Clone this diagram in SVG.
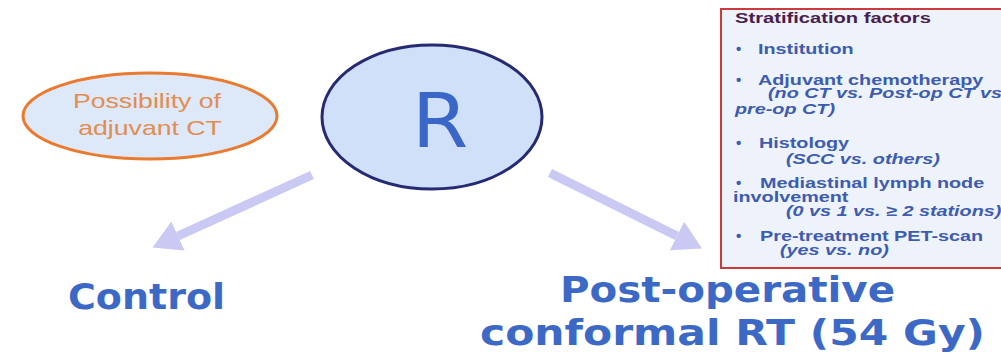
<svg xmlns="http://www.w3.org/2000/svg" width="1001" height="356" viewBox="0 0 1001 356">
<defs>
<style>
.item{font-family:"Liberation Sans",Arial,sans-serif;font-weight:bold;font-size:15px;fill:#3d5cb0}
.ital{font-style:italic}
.head{font-family:"Liberation Sans",Arial,sans-serif;font-weight:bold;font-size:15.5px;fill:#4a1d4f}
.big{font-family:"DejaVu Sans",sans-serif;font-weight:bold;font-size:35px;fill:#3d69c6}
.oval{font-family:"Liberation Sans",Arial,sans-serif;font-size:20.5px;fill:#e38c50}
.conn{stroke:#c9c9f3;stroke-width:9;fill:none}
</style>
<marker id="ah" viewBox="0 -16 28 32" markerWidth="28" markerHeight="32" refX="0" refY="0" markerUnits="userSpaceOnUse" orient="auto">
<path d="M0,-16 L28,0 L0,16 z" fill="#c9c9f3"/>
</marker>
</defs>
<rect width="1001" height="356" fill="#ffffff"/>

<g id="connectors">
<line class="conn" x1="312" y1="175" x2="178" y2="236" marker-end="url(#ah)"/>
<line class="conn" x1="550" y1="173" x2="677" y2="236" marker-end="url(#ah)"/>
</g>

<g id="node-possibility">
<ellipse cx="150" cy="116" rx="127" ry="43" fill="#dde9f8" stroke="#eb7a2e" stroke-width="3"/>
<text class="oval" text-anchor="middle" transform="matrix(1.3,0,0,1,147,108)">Possibility of</text>
<text class="oval" text-anchor="middle" transform="matrix(1.3,0,0,1,150,135)">adjuvant CT</text>
</g>

<g id="node-R">
<ellipse cx="432" cy="117" rx="110" ry="72" fill="#cfe0f8" stroke="#262a72" stroke-width="3"/>
<text text-anchor="middle" transform="matrix(1.1,0,0,1,440,147)" style="font-family:'DejaVu Sans',sans-serif;font-size:74px;fill:#3a66c8">R</text>
</g>

<g id="node-control">
<text class="big" x="68" y="309" textLength="157" lengthAdjust="spacingAndGlyphs">Control</text>
</g>

<g id="node-postop">
<text class="big" x="560" y="302" textLength="335" lengthAdjust="spacingAndGlyphs">Post-operative</text>
<text class="big" x="480" y="345" textLength="505" lengthAdjust="spacingAndGlyphs">conformal RT (54 Gy)</text>
</g>

<g id="node-stratification">
<rect x="721" y="9" width="300" height="259" fill="#eef3fb" stroke="#cc3b3b" stroke-width="2"/>
<text class="head" transform="matrix(1.3,0,0,1,735,23)">Stratification factors</text>
<text class="item" x="736" y="54">•</text>
<text class="item" transform="matrix(1.32,0,0,1,758,54)">Institution</text>
<text class="item" x="736" y="85">•</text>
<text class="item" transform="matrix(1.32,0,0,1,758,85)">Adjuvant chemotherapy</text>
<text class="item ital" transform="matrix(1.32,0,0,1,768,98)">(no CT vs. Post-op CT vs</text>
<text class="item ital" transform="matrix(1.32,0,0,1,735,114)">pre-op CT)</text>
<text class="item" x="736" y="148">•</text>
<text class="item" transform="matrix(1.32,0,0,1,759,148)">Histology</text>
<text class="item ital" transform="matrix(1.32,0,0,1,786,164)">(SCC vs. others)</text>
<text class="item" x="736" y="188">•</text>
<text class="item" transform="matrix(1.32,0,0,1,760,188)">Mediastinal lymph node</text>
<text class="item" transform="matrix(1.32,0,0,1,733,202)">involvement</text>
<text class="item ital" transform="matrix(1.32,0,0,1,786,216)">(0 vs 1 vs. ≥ 2 stations)</text>
<text class="item" x="736" y="241">•</text>
<text class="item" transform="matrix(1.32,0,0,1,760,241)">Pre-treatment PET-scan</text>
<text class="item ital" transform="matrix(1.32,0,0,1,780,255)">(yes vs. no)</text>
</g>
</svg>
